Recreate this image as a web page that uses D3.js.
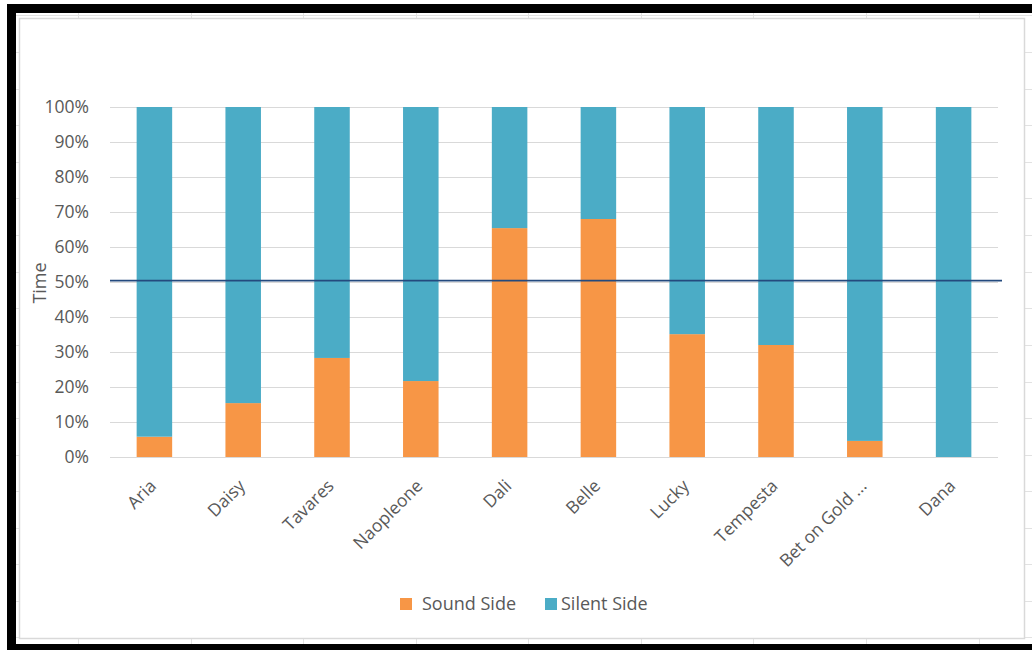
<!DOCTYPE html>
<html>
<head>
<meta charset="utf-8">
<script src="https://cdn.jsdelivr.net/npm/d3@7"></script>
<style>
  html, body { margin: 0; padding: 0; background: #ffffff; }
  svg { display: block; }
  text { font-family: "Open Sans", Lato, sans-serif; fill: #595959; }
</style>
</head>
<body>
<svg id="chart" width="1032" height="650"></svg>
<script>
// ---- data ----
const categories = ["Aria", "Daisy", "Tavares", "Naopleone", "Dali", "Belle", "Lucky", "Tempesta", "Bet on Gold ...", "Dana"];
const soundSide  = [5.8, 15.4, 28.3, 21.7, 65.4, 68.0, 35.1, 32.0, 4.6, 0.0];
const silentSide = [94.2, 84.6, 71.7, 78.3, 34.6, 32.0, 64.9, 68.0, 95.4, 100.0];
const seriesNames = ["Sound Side", "Silent Side"];
const averageLine = 50.4;
const yTicks = [0, 10, 20, 30, 40, 50, 60, 70, 80, 90, 100];

const colors = { "Sound Side": "#F79646", "Silent Side": "#4BACC6" };
const FONT = "'Open Sans', Lato, sans-serif";

const svg = d3.select("#chart");

// ---- spreadsheet background stubs ----
const colXs = [78, 191, 303, 416, 528, 641, 753, 866, 979];
const rowYs = [52, 89, 125, 162, 198, 235, 272, 308, 345, 382, 418, 455, 491, 528, 564, 601, 637];
const bg = svg.append("g").attr("stroke", "#e2e2e2").attr("stroke-width", 1);
colXs.forEach(x => {
  bg.append("line").attr("x1", x + 0.5).attr("x2", x + 0.5).attr("y1", 13).attr("y2", 18);
  bg.append("line").attr("x1", x + 0.5).attr("x2", x + 0.5).attr("y1", 639).attr("y2", 644);
});
rowYs.forEach(y => {
  bg.append("line").attr("x1", 16).attr("x2", 19).attr("y1", y + 0.5).attr("y2", y + 0.5);
  bg.append("line").attr("x1", 1025).attr("x2", 1032).attr("y1", y + 0.5).attr("y2", y + 0.5);
});
bg.append("line").attr("x1", 16).attr("x2", 1032).attr("y1", 15.5).attr("y2", 15.5);

// chart area border
svg.append("rect").attr("x", 19.5).attr("y", 18.5).attr("width", 1005).attr("height", 620)
  .attr("fill", "#ffffff").attr("stroke", "#d9d9d9").attr("stroke-width", 1.5);

// black frame
svg.append("rect").attr("x", 7).attr("y", 4).attr("width", 1025).attr("height", 9).attr("fill", "#000");
svg.append("rect").attr("x", 7).attr("y", 4).attr("width", 9).attr("height", 646).attr("fill", "#000");
svg.append("rect").attr("x", 7).attr("y", 644).attr("width", 1025).attr("height", 6).attr("fill", "#000");

// ---- scales ----
const x = d3.scaleBand().domain(categories).range([110, 998]).paddingInner(0.6).paddingOuter(0.3);
const y = d3.scaleLinear().domain([0, 100]).range([457, 107]);

// gridlines
svg.append("g").selectAll("line").data(yTicks).join("line")
  .attr("x1", 110).attr("x2", 998)
  .attr("y1", d => Math.round(y(d)) + 0.5).attr("y2", d => Math.round(y(d)) + 0.5)
  .attr("stroke", "#d9d9d9").attr("stroke-width", 1);

// y axis labels
const yAxis = d3.axisLeft(y).tickValues(yTicks).tickFormat(d => d + "%").tickSize(0).tickPadding(0);
const yg = svg.append("g").attr("transform", "translate(89,0)").call(yAxis);
yg.select(".domain").remove();
yg.selectAll("text").attr("font-size", 17.5).attr("fill", "#595959").attr("font-family", FONT);

// y title
svg.append("text").attr("transform", "translate(46,283) rotate(-90)")
  .attr("text-anchor", "middle").attr("font-size", 18).text("Time");

// ---- stacked bars ----
const rows = categories.map((c, i) => ({ cat: c, "Sound Side": soundSide[i], "Silent Side": silentSide[i] }));
const stack = d3.stack().keys(seriesNames)(rows);
svg.append("g").selectAll("g").data(stack).join("g")
  .attr("fill", d => colors[d.key])
  .selectAll("rect").data(d => d).join("rect")
  .attr("x", d => x(d.data.cat))
  .attr("width", x.bandwidth())
  .attr("y", d => y(d[1]))
  .attr("height", d => y(d[0]) - y(d[1]));

// x axis line
svg.append("line").attr("x1", 110).attr("x2", 998).attr("y1", 457.5).attr("y2", 457.5)
  .attr("stroke", "#d9d9d9").attr("stroke-width", 1);

// x axis labels
const xAxis = d3.axisBottom(x).tickSize(0).tickPadding(0);
const xg = svg.append("g").attr("transform", "translate(0,457)").call(xAxis);
xg.select(".domain").remove();
xg.selectAll("text")
  .attr("font-size", 17.5).attr("fill", "#595959").attr("font-family", FONT)
  .attr("text-anchor", "end").attr("dy", null).attr("y", 0)
  .attr("transform", "translate(3,30) rotate(-45)");

// average line
svg.append("line")
  .attr("x1", 110).attr("x2", 1002)
  .attr("y1", y(averageLine)).attr("y2", y(averageLine))
  .attr("stroke", "#244a7e").attr("stroke-width", 1.8);

// ---- legend ----
const legend = svg.append("g");
const legendItems = [
  { name: seriesNames[0], sx: 400, tx: 422 },
  { name: seriesNames[1], sx: 545, tx: 561 }
];
legendItems.forEach(it => {
  legend.append("rect").attr("x", it.sx).attr("y", 598).attr("width", 12).attr("height", 12)
    .attr("fill", colors[it.name]);
  legend.append("text").attr("x", it.tx).attr("y", 610).attr("font-size", 18).text(it.name);
});
</script>
</body>
</html>
